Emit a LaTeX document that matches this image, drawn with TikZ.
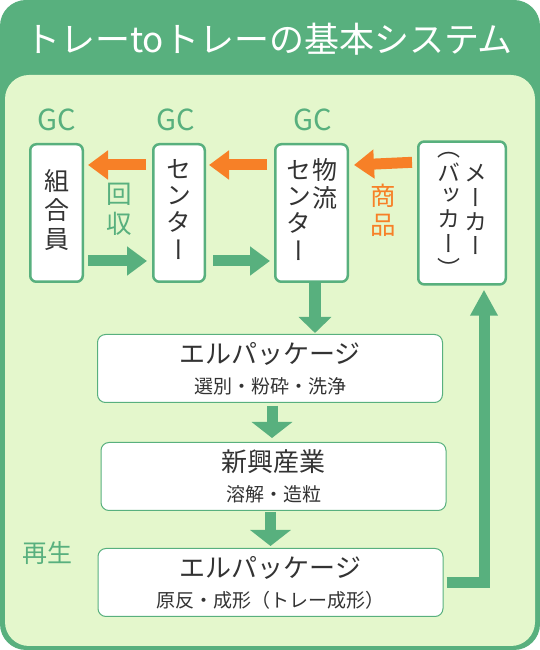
\documentclass[tikz,border=0pt]{standalone}
\usepackage{fontspec}
\setmainfont{Noto Sans CJK JP}
\newfontfamily\tatefont[RawFeature=+vert]{Noto Sans CJK JP}
\usetikzlibrary{arrows.meta, positioning}
\definecolor{gcgreen}{RGB}{88,176,126}
\definecolor{panelbg}{RGB}{228,247,204}
\definecolor{goods}{RGB}{247,128,39}
\definecolor{ink}{RGB}{51,51,51}
\newcommand{\tate}[2][c]{\begin{tabular}[#1]{@{}c@{}}#2\end{tabular}}
\tikzstyle{tall} = [rectangle, draw=gcgreen, line width=2.5pt, fill=white,
    rounded corners=6pt, minimum height=137.5pt, inner sep=0pt, text=ink,
    font=\tatefont\fontsize{25}{26}\selectfont]
\tikzstyle{wide} = [rectangle, draw=gcgreen, line width=1pt, fill=white,
    rounded corners=8pt, minimum width=345pt, minimum height=68pt, inner sep=0pt,
    text=ink, align=center, font=\fontsize{26}{30}\selectfont]

\begin{document}
\begin{tikzpicture}[x=1pt, y=1pt,
back/.style = {-{Triangle[width=28pt,length=20pt]}, line width=11pt, draw=goods},
fwd/.style = {-{Triangle[width=28pt,length=20pt]}, line width=11pt, draw=gcgreen},
down/.style = {-{Triangle[width=40pt,length=16pt]}, line width=11pt, draw=gcgreen},
ret/.style = {-{Triangle[width=26pt,length=26pt]}, line width=11pt, draw=gcgreen, line join=miter},
gc/.style = {text=gcgreen, font=\fontsize{29}{29}\selectfont, inner sep=0pt},
side/.style = {font=\tatefont\fontsize{25.5}{29}\selectfont, inner sep=0pt},
                        ]
\useasboundingbox (0,0) rectangle (540,650);
\fill[gcgreen, rounded corners=26pt] (0,0) rectangle (540,650);
\fill[panelbg, rounded corners=24pt] (5,4) rectangle (535,575);
\node[text=white, font=\fontsize{35}{35}\selectfont] (title) at (269,611) {トレーtoトレーの基本システム};

% top row
\node[tall, minimum width=52.5pt, font=\tatefont\fontsize{25}{27.5}\selectfont] (member) at (56.5,437) {\tate{組\\合\\員}};
\node[tall, minimum width=51.5pt, right=68pt of member] (depot) {\tate{セ\\ン\\タ\\ー}};
\node[tall, minimum width=72.5pt, right=68pt of depot] (hub) {\tate[t]{セ\\ン\\タ\\ー}\hspace{1pt}\tate[t]{物\\流}};
\node[tall, minimum width=87.5pt, right=68pt of hub, font=\tatefont\fontsize{23}{21.5}\selectfont] (maker) {\tate{（\\バ\\ッ\\カ\\ー\\）}\hspace{4pt}\tate{メ\\ー\\カ\\ー}};

\node[gc, above=12pt of member] (gc1) {GC};
\node[gc, above=12pt of depot, xshift=-3pt] (gc2) {GC};
\node[gc, above=12pt of hub, xshift=1.5pt] (gc3) {GC};

\node[side, text=gcgreen] (kaishu) at (119,437) {\tate{回\\収}};
\node[side, text=goods] (shohin) at (383,436.5) {\tate{商\\品}};

% goods go left, trays come back right
\draw[back] ([shift={(-6pt,-22pt)}]depot.north west) -- ([shift={(4pt,-22pt)}]member.north east);
\draw[back] ([shift={(-7pt,-22pt)}]hub.north west) -- ([shift={(3pt,-22pt)}]depot.north east);
\draw[back] ([shift={(-5pt,-22pt)}]maker.north west) -- ([shift={(5pt,-22pt)}]hub.north east);
\draw[fwd] ([shift={(4pt,22pt)}]member.south east) -- ([shift={(-5pt,22pt)}]depot.south west);
\draw[fwd] ([shift={(7pt,22pt)}]depot.south east) -- ([shift={(-4pt,22pt)}]hub.south west);

% recycling column
\node[wide] (sort) at (270,281.5) {エルパッケージ\\{\fontsize{19}{19}\selectfont 選別・粉砕・洗浄}};
\node[wide, below=39pt of sort, xshift=3.5pt] (melt) {新興産業\\{\fontsize{19}{19}\selectfont 溶解・造粒}};
\node[wide, below=37pt of melt, xshift=-3pt] (form) {エルパッケージ\\{\fontsize{19}{19}\selectfont 原反・成形（トレー成形）}};

\node[text=gcgreen, font=\fontsize{25}{25}\selectfont] (saisei) at (47,97) {再生};

\draw[down, -{Triangle[width=32pt,length=16pt]}, line width=12pt] ([xshift=3.5pt]hub.south) -- ([xshift=3.5pt, yshift=1pt]hub.south |- sort.north);
\draw[down] ([shift={(2pt,-3pt)}]sort.south) -- ([shift={(-1.5pt,4pt)}]melt.north);
\draw[down] ([shift={(-3pt,-1pt)}]melt.south) -- ([yshift=2pt]form.north);
\draw[ret] ([xshift=3pt]form.east) -| ([shift={(22pt,-4pt)}]maker.south);
\end{tikzpicture}
\end{document}
